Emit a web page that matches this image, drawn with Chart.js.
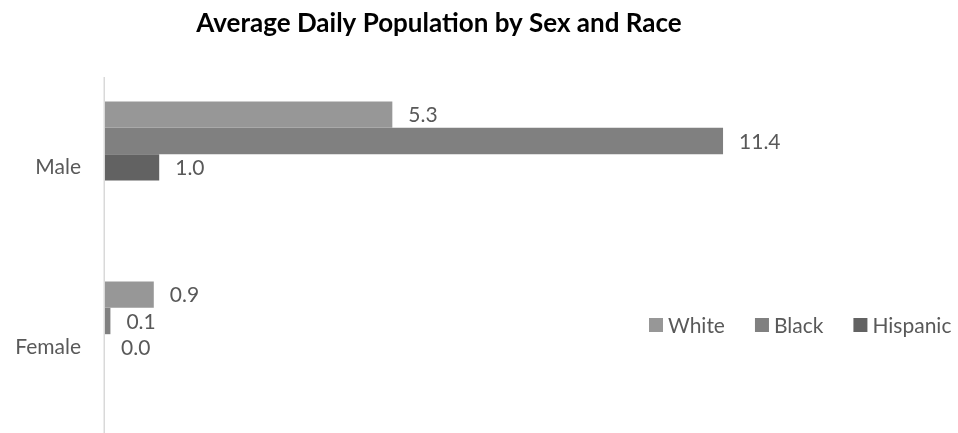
<!DOCTYPE html>
<html>
<head>
<meta charset="utf-8">
<script src="https://cdn.jsdelivr.net/npm/chart.js@4/dist/chart.umd.min.js"></script>
<style>
  html, body { margin: 0; padding: 0; background: #ffffff; }
  #wrap { width: 958px; height: 433px; position: relative; }
</style>
</head>
<body>
<div id="wrap"><canvas id="c" width="958" height="433"></canvas></div>
<script>
// ---- data ----
const categories = ['Male', 'Female'];
const seriesNames = ['White', 'Black', 'Hispanic'];
const whiteValues = [5.3, 0.9];
const blackValues = [11.4, 0.1];
const hispanicValues = [1.0, 0.0];
const chartTitle = 'Average Daily Population by Sex and Race';

// ---- style ----
const FONT = 'Lato, "Open Sans", "Liberation Sans", sans-serif';
const TEXT = '#595959';
const COLORS = ['#979797', '#808080', '#626262'];
const LABEL_SHIFT = 26;   // visual offset of category labels / axis line

const valueLabels = {
  id: 'valueLabels',
  afterDatasetsDraw(chart) {
    const ctx = chart.ctx;
    ctx.save();
    ctx.font = '21px ' + FONT;
    ctx.fillStyle = TEXT;
    ctx.textAlign = 'left';
    ctx.textBaseline = 'middle';
    chart.data.datasets.forEach((ds, i) => {
      const meta = chart.getDatasetMeta(i);
      meta.data.forEach((bar, j) => {
        const v = ds.data[j];
        ctx.fillText(v.toFixed(1), bar.x + 16, bar.y + 1);
      });
    });
    ctx.restore();
  }
};

const axisLine = {
  id: 'axisLine',
  beforeDatasetsDraw(chart) {
    const ctx = chart.ctx;
    const x0 = chart.scales.x.getPixelForValue(0);
    const a = chart.chartArea;
    ctx.save();
    ctx.strokeStyle = '#d9d9d9';
    ctx.lineWidth = 1.5;
    ctx.beginPath();
    ctx.moveTo(x0 - 0.75, a.top + LABEL_SHIFT);
    ctx.lineTo(x0 - 0.75, a.bottom + LABEL_SHIFT);
    ctx.stroke();
    ctx.restore();
  }
};

const customLegend = {
  id: 'customLegend',
  afterDraw(chart) {
    const ctx = chart.ctx;
    ctx.save();
    ctx.font = '21px ' + FONT;
    ctx.textAlign = 'left';
    ctx.textBaseline = 'middle';
    let x = 649;
    const cy = 325;
    const box = 14;
    chart.data.datasets.forEach(ds => {
      ctx.fillStyle = ds.backgroundColor;
      ctx.fillRect(x, cy - box / 2, box, box);
      ctx.fillStyle = TEXT;
      ctx.fillText(ds.label, x + box + 5, cy + 1);
      x += box + 5 + ctx.measureText(ds.label).width + 30;
    });
    ctx.restore();
  }
};

const seriesValues = [whiteValues, blackValues, hispanicValues];

new Chart(document.getElementById('c'), {
  type: 'bar',
  data: {
    labels: categories,
    datasets: seriesNames.map((name, i) => ({
      label: name,
      data: seriesValues[i],
      backgroundColor: COLORS[i],
      borderWidth: 0,
      categoryPercentage: 0.44,
      barPercentage: 1.0
    }))
  },
  options: {
    indexAxis: 'y',
    responsive: false,
    animation: false,
    devicePixelRatio: 1,
    layout: { padding: { left: 14, right: 94, top: 0, bottom: 22 } },
    plugins: {
      legend: { display: false },
      tooltip: { enabled: false },
      title: {
        display: true,
        text: chartTitle,
        color: '#000000',
        font: { family: FONT, size: 26, weight: 'bold', lineHeight: 1.2 },
        padding: { top: 8, bottom: 11.8 }
      }
    },
    scales: {
      x: {
        display: false,
        min: 0,
        max: 14,
        grid: { display: false }
      },
      y: {
        grid: { display: false, drawTicks: false },
        border: { display: false },
        ticks: {
          color: TEXT,
          font: { family: FONT, size: 21 },
          padding: 24,
          labelOffset: LABEL_SHIFT
        },
        afterFit(scale) {
          scale.width = 91;
          scale.paddingTop = 0;
          scale.paddingBottom = 0;
        }
      }
    }
  },
  plugins: [valueLabels, axisLine, customLegend]
});
</script>
</body>
</html>
